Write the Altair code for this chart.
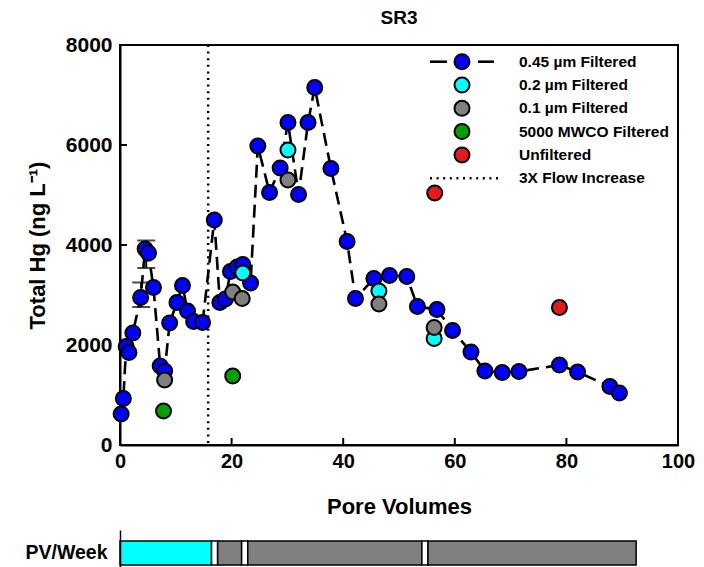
import altair as alt
import pandas as pd

FONT = "Liberation Sans"

# ---------------- data ----------------
# 0.45 um filtered (connected with dashed line)
pv_045 = [0.2, 0.6, 1.1, 1.6, 2.3, 3.7, 4.5, 5.1, 6.0, 7.2, 8.0, 8.9, 10.2, 11.2,
          12.1, 13.2, 14.8, 16.9, 17.9, 18.9, 19.8, 21.0, 22.0, 23.4, 24.7, 26.8,
          28.7, 30.1, 32.0, 33.7, 34.9, 37.8, 40.7, 42.2, 45.5, 48.3, 51.4, 53.3,
          56.8, 59.6, 62.9, 65.4, 68.5, 71.5, 78.75, 82.0, 87.8, 89.5]
hg_045 = [620, 930, 1970, 1850, 2240, 2950, 3920, 3840, 3150, 1580, 1480, 2440, 2850, 3190,
          2680, 2470, 2450, 4500, 2850, 2920, 3470, 3560, 3610, 3240, 5980, 5050,
          5540, 6450, 5010, 6450, 7150, 5530, 4070, 2930, 3330, 3390, 3370, 2770,
          2710, 2290, 1860, 1480, 1450, 1470, 1600, 1460, 1170, 1040]

pv_02 = [22.0, 30.1, 46.4, 56.3]
hg_02 = [3440, 5900, 3080, 2130]

pv_01 = [8.0, 20.2, 21.9, 30.1, 46.4, 56.3]
hg_01 = [1300, 3060, 2930, 5300, 2820, 2350]

pv_5000 = [7.8, 20.2]
hg_5000 = [680, 1380]

pv_unf = [56.4, 78.75]
hg_unf = [5040, 2750]

# error bars
err_pv = [4.7, 3.8]
err_lo = [3540, 2760]
err_hi = [4090, 3250]

flow_increase_pv = [15.8]

series_names = ["0.45 \u00b5m Filtered", "0.2 \u00b5m Filtered", "0.1 \u00b5m Filtered",
                "5000 MWCO Filtered", "Unfiltered"]
series_colors = ["#0000FF", "#00FFFF", "#808080", "#00A000", "#E41A1C"]
flow_label = "3X Flow Increase"

x_tick_values = [0, 20, 40, 60, 80, 100]
y_tick_values = [0, 2000, 4000, 6000, 8000]
x_inner_ticks = [20, 40, 60, 80]
y_inner_ticks = [2000, 4000, 6000]

# PV/Week bar segments
pvw_start = [0, 16.4, 17.5, 21.8, 22.9, 54.1, 55.2]
pvw_end = [16.4, 17.5, 21.8, 22.9, 54.1, 55.2, 92.5]
pvw_fill = ["#00FFFF", "#FFFFFF", "#808080", "#FFFFFF", "#808080", "#FFFFFF", "#808080"]

PLOT_W = 558
PLOT_H = 400
LEG_Y0 = 16.7
LEG_DY = 23.3

# ---------------- tables ----------------
blue_df = pd.DataFrame({"pv": pv_045, "hg": hg_045})
blue_df["idx"] = range(len(blue_df))

frames = []
for name, xs, ys in zip(series_names,
                        [pv_045, pv_02, pv_01, pv_5000, pv_unf],
                        [hg_045, hg_02, hg_01, hg_5000, hg_unf]):
    frames.append(pd.DataFrame({"pv": xs, "hg": ys, "series": name}))
pts_df = pd.concat(frames, ignore_index=True)

err_df = pd.DataFrame({"pv": err_pv, "lo": err_lo, "hi": err_hi})

XS = alt.Scale(domain=[0, 100], nice=False)
YS = alt.Scale(domain=[0, 8000], nice=False)

x_axis = alt.Axis(values=x_tick_values, title="Pore Volumes", ticks=False, grid=False,
                  labelFlush=False, format="d", labelFontSize=20,
                  labelPadding=6, titlePadding=25, domainColor="black", domainWidth=2)
y_axis = alt.Axis(values=y_tick_values, title="Total Hg (ng L\u207b\u00b9)", ticks=False, grid=False,
                  labelFlush=False, format="d", labelFontSize=21,
                  labelPadding=8, titlePadding=16, domainColor="black", domainWidth=2)

line = alt.Chart(blue_df).mark_line(color="black", strokeWidth=2.6, strokeDash=[13, 7]).encode(
    x=alt.X("pv:Q", scale=XS, axis=x_axis),
    y=alt.Y("hg:Q", scale=YS, axis=y_axis),
    order="idx:Q",
)

xt = alt.Chart(pd.DataFrame({"t": x_inner_ticks})).mark_rule(color="black", strokeWidth=2).encode(
    x=alt.X("t:Q", scale=XS), y=alt.value(PLOT_H), y2=alt.value(PLOT_H - 7))
yt = alt.Chart(pd.DataFrame({"t": y_inner_ticks})).mark_rule(color="black", strokeWidth=2).encode(
    y=alt.Y("t:Q", scale=YS), x=alt.value(0), x2=alt.value(7))

flow = alt.Chart(pd.DataFrame({"pv": flow_increase_pv})).mark_rule(
    color="black", strokeWidth=2.5, strokeDash=[2, 4.6]).encode(x=alt.X("pv:Q", scale=XS))

err_rule = alt.Chart(err_df).mark_rule(color="black", strokeWidth=2).encode(
    x=alt.X("pv:Q", scale=XS), y=alt.Y("lo:Q", scale=YS), y2="hi:Q")
err_caps = alt.Chart(err_df).transform_fold(["lo", "hi"], as_=["k", "v"]).mark_tick(
    orient="horizontal", size=18, thickness=2, color="black").encode(
    x=alt.X("pv:Q", scale=XS), y=alt.Y("v:Q", scale=YS))

points = alt.Chart(pts_df).mark_circle(size=225, stroke="black", strokeWidth=2,
                                       opacity=1, fillOpacity=1).encode(
    x=alt.X("pv:Q", scale=XS),
    y=alt.Y("hg:Q", scale=YS),
    fill=alt.Fill("series:N", scale=alt.Scale(domain=series_names, range=series_colors), legend=None),
)

# ---------------- manual legend (pixel layout) ----------------
leg_labels = series_names + [flow_label]
leg_df = pd.DataFrame({"label": leg_labels})
leg_df["py"] = [LEG_Y0 + LEG_DY * i for i in range(len(leg_labels))]
sym_df = pd.DataFrame({"color": series_colors})
sym_df["py"] = [LEG_Y0 + LEG_DY * i for i in range(len(series_colors))]

leg_text = alt.Chart(leg_df).mark_text(align="left", baseline="middle", font=FONT,
                                       fontSize=15.5, fontWeight="bold", color="black").encode(
    x=alt.value(399), y=alt.Y("py:Q", scale=None, axis=None), text="label:N")
leg_seg1 = alt.Chart(pd.DataFrame({"a": [0]})).mark_rule(color="black", strokeWidth=2.6).encode(
    x=alt.value(310), x2=alt.value(327), y=alt.value(LEG_Y0))
leg_seg2 = alt.Chart(pd.DataFrame({"a": [0]})).mark_rule(color="black", strokeWidth=2.6).encode(
    x=alt.value(358), x2=alt.value(374), y=alt.value(LEG_Y0))
leg_dot = alt.Chart(pd.DataFrame({"a": [0]})).mark_rule(color="black", strokeWidth=2.5,
                                                        strokeDash=[2, 4.6]).encode(
    x=alt.value(310), x2=alt.value(380), y=alt.value(LEG_Y0 + LEG_DY * 5))
leg_sym = alt.Chart(sym_df).mark_circle(size=225, stroke="black", strokeWidth=2,
                                        opacity=1, fillOpacity=1).encode(
    x=alt.value(342), y=alt.Y("py:Q", scale=None, axis=None),
    fill=alt.Fill("color:N", scale=None))

main = alt.layer(line, flow, xt, yt, err_rule, err_caps, points,
                 leg_seg1, leg_seg2, leg_dot, leg_sym, leg_text).properties(
    width=PLOT_W, height=PLOT_H,
    view=alt.ViewBackground(stroke="black", strokeWidth=2),
    title=alt.TitleParams("SR3", font=FONT, fontSize=19, fontWeight="bold", color="black",
                          anchor="middle", frame="group", offset=6),
)

# ---------------- PV/Week bar ----------------
pvw_df = pd.DataFrame({"start": pvw_start, "end": pvw_end, "fill": pvw_fill, "row": "PV/Week"})
bottom = alt.Chart(pvw_df).mark_rect(stroke="black", strokeWidth=1.5).encode(
    x=alt.X("start:Q", scale=alt.Scale(domain=[0, 100], nice=False), axis=None),
    x2="end:Q",
    y=alt.Y("row:N", scale=alt.Scale(paddingInner=0, paddingOuter=0.333, align=0.69),
            axis=alt.Axis(title=None, ticks=False, domain=True, domainColor="black",
                          domainWidth=1.5, labelFontSize=19.5, labelPadding=13)),
    fill=alt.Fill("fill:N", scale=None),
).properties(width=PLOT_W, height=40, view=alt.ViewBackground(stroke="transparent"))

chart = alt.vconcat(main, bottom, spacing=11).properties(
    padding={"left": 16, "top": 0, "right": 0, "bottom": 0}
).configure(
    font=FONT
).configure_axis(
    labelFont=FONT, labelFontSize=21, labelFontWeight="bold", labelColor="black",
    titleFont=FONT, titleFontSize=22, titleFontWeight="bold", titleColor="black",
).configure_view(stroke="transparent")

chart.save("out.html", embed_options={"renderer": "svg", "actions": False})
